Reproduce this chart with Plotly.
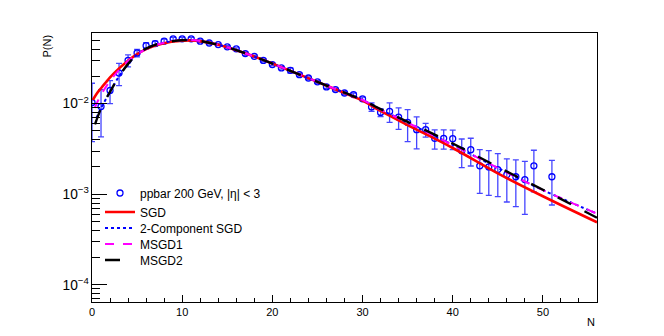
import plotly.graph_objects as go

# ---- data points (ppbar 200 GeV, |eta| < 3) ----
n_data = [0, 1, 2, 3, 4, 5, 6, 7, 8, 9, 10, 11, 12, 13, 14, 15, 16, 17, 18, 19,
          20, 21, 22, 23, 24, 25, 26, 27, 28, 29, 30, 31, 32, 33, 34, 35, 36, 37,
          38, 39, 40, 41, 42, 43, 44, 45, 46, 47, 48, 49, 51]
p_data = [1.03e-2, 9.3e-3, 1.40e-2, 2.18e-2, 3.0e-2, 3.63e-2, 4.37e-2, 4.6e-2, 4.9e-2, 5.2e-2,
          5.2e-2, 5.2e-2, 4.9e-2, 4.67e-2, 4.49e-2, 4.24e-2, 4.03e-2, 3.57e-2, 3.33e-2, 3.0e-2,
          2.7e-2, 2.48e-2, 2.33e-2, 2.09e-2, 1.92e-2, 1.74e-2, 1.53e-2, 1.43e-2, 1.31e-2, 1.26e-2,
          1.13e-2, 9.2e-3, 8.0e-3, 8.2e-3, 7.1e-3, 6.2e-3, 5.16e-3, 5.16e-3, 4.14e-3, 4.14e-3,
          4.1e-3, 3.02e-3, 3.1e-3, 2.06e-3, 2.0e-3, 1.87e-3, 1.64e-3, 1.56e-3, 1.45e-3, 2.06e-3,
          1.56e-3]
e_data = [6.5e-3, 5.0e-3, 4.0e-3, 6.0e-3, 4.5e-3, 3.5e-3, 3.5e-3, 3.0e-3, 2.5e-3, 2.0e-3,
          2.0e-3, 1.8e-3, 1.5e-3, 1.2e-3, 1.2e-3, 1.2e-3, 1.0e-3, 1.5e-3, 1.0e-3, 1.0e-3,
          0.8e-3, 0.8e-3, 1.5e-3, 0.8e-3, 0.6e-3, 0.6e-3, 0.6e-3, 0.5e-3, 0.5e-3, 0.5e-3,
          0.5e-3, 1.0e-3, 0.8e-3, 2.0e-3, 1.9e-3, 2.4e-3, 2.0e-3, 0.9e-3, 1.0e-3, 1.0e-3,
          1.0e-3, 1.05e-3, 1.05e-3, 1.04e-3, 1.03e-3, 0.93e-3, 0.82e-3, 0.83e-3, 0.85e-3, 1.0e-3,
          0.8e-3]

# ---- fitted curves ----
n_sgd = [0.1, 0.5, 1, 1.5, 2, 3, 4, 5, 6, 7, 8, 9, 10, 11, 12, 14, 16, 18, 20, 22, 25, 28, 30,
         32, 35, 40, 45, 50, 56]
p_sgd = [1.1e-2, 1.28e-2, 1.48e-2, 1.7e-2, 1.95e-2, 2.45e-2, 2.98e-2, 3.52e-2, 4.0e-2, 4.38e-2,
         4.65e-2, 4.85e-2, 4.96e-2, 5.0e-2, 4.9e-2, 4.47e-2, 3.89e-2, 3.31e-2, 2.77e-2, 2.3e-2,
         1.74e-2, 1.31e-2, 1.08e-2, 8.3e-3, 5.8e-3, 3.24e-3, 1.7e-3, 9.5e-4, 4.9e-4]

n_2c = [0.5, 1, 2, 3, 4, 5, 6, 7, 8, 9, 10, 11, 12, 14, 16, 18, 20, 22, 25, 28, 30,
        32, 35, 40, 45, 50, 56]
p_2c = [7.0e-3, 8.9e-3, 1.36e-2, 2.0e-2, 2.75e-2, 3.5e-2, 4.05e-2, 4.45e-2, 4.72e-2, 4.9e-2,
        5.02e-2, 5.05e-2, 4.92e-2, 4.47e-2, 3.89e-2, 3.31e-2, 2.77e-2, 2.3e-2, 1.74e-2, 1.32e-2,
        1.1e-2, 8.6e-3, 6.17e-3, 3.5e-3, 1.95e-3, 1.11e-3, 6.1e-4]

n_m1 = [0.3, 1, 2, 3, 4, 5, 6, 7, 8, 9, 10, 11, 12, 14, 16, 18, 20, 22, 25, 28, 30,
        32, 35, 40, 45, 50, 56]
p_m1 = [9.0e-3, 1.25e-2, 1.78e-2, 2.35e-2, 2.95e-2, 3.5e-2, 4.0e-2, 4.42e-2, 4.7e-2, 4.9e-2,
        5.0e-2, 5.03e-2, 4.92e-2, 4.47e-2, 3.89e-2, 3.31e-2, 2.77e-2, 2.3e-2, 1.74e-2, 1.32e-2,
        1.1e-2, 8.6e-3, 6.17e-3, 3.5e-3, 1.95e-3, 1.11e-3, 6.1e-4]

n_m2 = [0.33, 1, 2, 3, 4, 5, 6, 7, 8, 9, 10, 11, 12, 14, 16, 18, 20, 22, 25, 28, 30,
        32, 35, 40, 45, 50, 56]
p_m2 = [5.9e-3, 8.8e-3, 1.35e-2, 2.0e-2, 2.75e-2, 3.5e-2, 4.05e-2, 4.45e-2, 4.72e-2, 4.9e-2,
        5.02e-2, 5.05e-2, 4.92e-2, 4.47e-2, 3.89e-2, 3.31e-2, 2.77e-2, 2.3e-2, 1.74e-2, 1.32e-2,
        1.1e-2, 8.7e-3, 6.3e-3, 3.63e-3, 2.0e-3, 1.12e-3, 5.5e-4]

legend_names = ["ppbar 200 GeV, |η| &lt; 3", "SGD", "2-Component SGD", "MSGD1", "MSGD2"]

FONT = "Liberation Sans, Arial, Helvetica, sans-serif"

fig = go.Figure()
fig.add_trace(go.Scatter(
    x=n_data, y=p_data, mode="markers", name=legend_names[0], legend="legend",
    marker=dict(symbol="circle-open", size=6, color="rgb(0,0,255)", line=dict(width=1.3)),
    error_y=dict(type="data", array=e_data, color="rgb(70,70,255)", thickness=1.3, width=3),
))
fig.add_trace(go.Scatter(
    x=n_sgd, y=p_sgd, mode="lines", name=legend_names[1], legend="legend2",
    line=dict(color="rgb(255,0,0)", width=2.6, shape="spline")))
fig.add_trace(go.Scatter(
    x=n_2c, y=p_2c, mode="lines", name=legend_names[2], legend="legend3",
    line=dict(color="rgb(0,0,255)", width=2, dash="dot", shape="spline")))
fig.add_trace(go.Scatter(
    x=n_m1, y=p_m1, mode="lines", name=legend_names[3], legend="legend4",
    line=dict(color="rgb(255,0,255)", width=2, dash="dash", shape="spline")))
fig.add_trace(go.Scatter(
    x=n_m2, y=p_m2, mode="lines", name=legend_names[4], legend="legend5",
    line=dict(color="black", width=2.4, dash="longdash", shape="spline")))

# the page body adds an 8px offset; margins compensate for it
plot_top, plot_bot = 33.0, 302.0
row_px = [193, 212, 228, 244, 260]
leg_x = (100 - 92) / 505.0
leg_common = dict(x=leg_x, xanchor="left", yanchor="middle", bgcolor="rgba(0,0,0,0)",
                  borderwidth=0, font=dict(family=FONT, size=12, color="black"))
for i, key in enumerate(["legend", "legend2", "legend3", "legend4", "legend5"]):
    fig.update_layout(**{key: dict(y=(plot_bot - row_px[i]) / (plot_bot - plot_top), **leg_common)})

fig.update_layout(
    width=664, height=336,
    margin=dict(l=84, r=75, t=25, b=42),
    plot_bgcolor="white", paper_bgcolor="white",
    font=dict(family=FONT, size=11, color="black"),
    xaxis=dict(range=[0, 56], showgrid=False, zeroline=False, showline=True,
               linecolor="black", linewidth=1, mirror=True,
               ticks="inside", ticklen=7, tickcolor="black", dtick=10, tick0=0,
               minor=dict(ticks="inside", ticklen=4, dtick=2, tickcolor="black"),
               tickfont=dict(family=FONT, size=11)),
    yaxis=dict(type="log", range=[-4.19, -1.22], showgrid=False, zeroline=False, showline=True,
               linecolor="black", linewidth=1, mirror=True,
               ticks="inside", ticklen=15, tickcolor="black", dtick=1,
               exponentformat="power",
               minor=dict(ticks="inside", ticklen=8, dtick="D1", tickcolor="black"),
               tickfont=dict(family=FONT, size=11)),
    showlegend=True,
)

fig.add_annotation(text="N", xref="paper", yref="paper", x=1.0, y=-0.0, xanchor="right",
                   yanchor="top", yshift=-12, showarrow=False, font=dict(family=FONT, size=11))
fig.add_annotation(text="P(N)", xref="paper", yref="paper", x=0, y=1.0, xanchor="right",
                   yanchor="top", xshift=-38, yshift=0, textangle=-90, showarrow=False,
                   font=dict(family=FONT, size=11))

fig.write_html("out.html")
